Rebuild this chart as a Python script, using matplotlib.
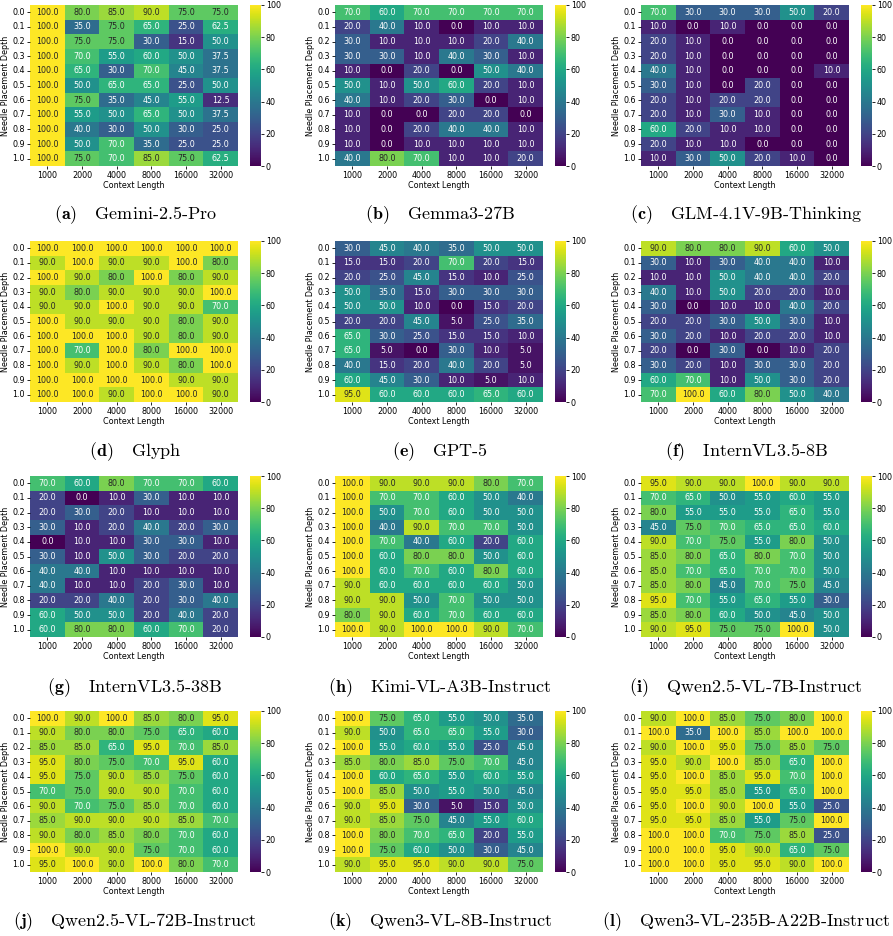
import numpy as np
import matplotlib
matplotlib.use("Agg")
import matplotlib.pyplot as plt
import seaborn as sns

plt.rcParams['mathtext.fontset'] = 'cm'

contexts = ["1000", "2000", "4000", "8000", "16000", "32000"]
depths = ["0.0", "0.1", "0.2", "0.3", "0.4", "0.5", "0.6", "0.7", "0.8", "0.9", "1.0"]

gemini_25_pro = [
    [100, 80, 85, 90, 75, 75],
    [100, 35, 75, 65, 25, 62.5],
    [100, 75, 75, 30, 15, 50],
    [100, 70, 55, 60, 50, 37.5],
    [100, 65, 30, 70, 45, 37.5],
    [100, 50, 65, 65, 25, 50],
    [100, 75, 35, 45, 55, 12.5],
    [100, 55, 50, 65, 50, 37.5],
    [100, 40, 30, 50, 30, 25],
    [100, 50, 70, 35, 25, 25],
    [100, 75, 70, 85, 75, 62.5],
]
gemma3_27b = [
    [70, 60, 70, 70, 70, 70],
    [20, 40, 10, 0, 10, 10],
    [30, 10, 10, 10, 20, 40],
    [30, 30, 10, 40, 30, 10],
    [10, 0, 20, 0, 50, 40],
    [50, 10, 50, 60, 20, 10],
    [40, 10, 20, 30, 0, 10],
    [10, 0, 0, 20, 20, 0],
    [10, 0, 20, 40, 40, 10],
    [10, 0, 10, 10, 10, 10],
    [40, 80, 70, 10, 10, 20],
]
glm_41v = [
    [70, 30, 30, 30, 50, 20],
    [10, 0, 10, 0, 0, 0],
    [20, 10, 0, 0, 0, 0],
    [20, 10, 0, 0, 0, 0],
    [40, 10, 0, 0, 0, 10],
    [30, 10, 0, 20, 0, 0],
    [20, 10, 20, 20, 0, 0],
    [20, 10, 30, 10, 0, 0],
    [60, 20, 10, 10, 0, 0],
    [20, 10, 10, 0, 0, 0],
    [10, 30, 50, 20, 10, 0],
]
glyph = [
    [100, 100, 100, 100, 100, 100],
    [90, 100, 90, 90, 100, 80],
    [100, 90, 80, 100, 80, 90],
    [90, 80, 90, 90, 90, 100],
    [90, 90, 100, 90, 90, 70],
    [100, 90, 90, 90, 80, 90],
    [100, 100, 100, 90, 80, 90],
    [100, 70, 100, 80, 100, 100],
    [100, 90, 100, 90, 80, 100],
    [100, 100, 100, 100, 90, 90],
    [100, 100, 90, 100, 100, 90],
]
gpt5 = [
    [30, 45, 40, 35, 50, 50],
    [15, 15, 20, 70, 20, 15],
    [20, 25, 45, 15, 10, 25],
    [50, 35, 15, 30, 30, 30],
    [50, 50, 10, 0, 15, 20],
    [20, 20, 45, 5, 25, 35],
    [65, 30, 25, 15, 15, 10],
    [65, 5, 0, 30, 10, 5],
    [40, 15, 20, 40, 20, 5],
    [60, 45, 30, 10, 5, 10],
    [95, 60, 60, 60, 65, 60],
]
internvl_8b = [
    [90, 80, 80, 90, 60, 50],
    [30, 10, 30, 40, 40, 10],
    [10, 10, 50, 40, 40, 20],
    [40, 10, 50, 20, 20, 10],
    [30, 0, 10, 10, 40, 20],
    [20, 20, 30, 50, 30, 10],
    [30, 20, 10, 20, 20, 10],
    [20, 0, 30, 0, 10, 20],
    [30, 20, 10, 30, 30, 20],
    [60, 70, 10, 50, 30, 20],
    [70, 100, 60, 80, 50, 40],
]
internvl_38b = [
    [70, 60, 80, 70, 70, 60],
    [20, 0, 10, 30, 10, 10],
    [20, 30, 20, 10, 10, 10],
    [30, 10, 20, 40, 20, 30],
    [0, 10, 10, 30, 30, 10],
    [30, 10, 50, 30, 20, 20],
    [40, 40, 10, 10, 10, 10],
    [40, 10, 10, 20, 30, 10],
    [20, 20, 40, 20, 30, 40],
    [60, 50, 50, 20, 40, 20],
    [60, 80, 80, 60, 70, 20],
]
kimi_vl = [
    [100, 90, 90, 90, 80, 70],
    [100, 70, 70, 60, 50, 40],
    [100, 50, 70, 60, 50, 50],
    [100, 40, 90, 70, 70, 50],
    [100, 70, 40, 60, 20, 60],
    [100, 60, 80, 80, 50, 60],
    [100, 60, 70, 60, 80, 60],
    [90, 60, 60, 60, 60, 50],
    [90, 90, 50, 70, 50, 50],
    [80, 90, 60, 70, 60, 60],
    [100, 90, 100, 100, 90, 70],
]
qwen25_7b = [
    [95, 90, 90, 100, 90, 90],
    [70, 65, 50, 55, 60, 55],
    [80, 55, 55, 55, 65, 55],
    [45, 75, 70, 65, 65, 60],
    [90, 70, 75, 55, 80, 50],
    [85, 80, 65, 80, 70, 50],
    [85, 70, 65, 70, 70, 50],
    [85, 80, 45, 70, 75, 45],
    [95, 70, 55, 65, 55, 30],
    [85, 80, 60, 50, 45, 50],
    [90, 95, 75, 75, 100, 50],
]
qwen25_72b = [
    [100, 90, 100, 85, 80, 95],
    [90, 80, 80, 75, 65, 60],
    [85, 85, 65, 95, 70, 85],
    [95, 80, 75, 70, 95, 60],
    [95, 75, 90, 85, 75, 60],
    [70, 75, 90, 90, 70, 60],
    [90, 70, 75, 85, 70, 60],
    [85, 90, 90, 90, 85, 70],
    [90, 80, 85, 80, 70, 60],
    [100, 90, 90, 75, 70, 60],
    [95, 100, 90, 100, 80, 70],
]
qwen3_8b = [
    [100, 75, 65, 55, 50, 35],
    [90, 50, 65, 65, 55, 30],
    [100, 55, 60, 55, 25, 45],
    [85, 80, 85, 75, 70, 45],
    [100, 60, 65, 55, 60, 55],
    [100, 85, 50, 55, 50, 45],
    [90, 95, 30, 5, 15, 50],
    [90, 85, 75, 45, 55, 60],
    [100, 80, 70, 65, 20, 55],
    [100, 75, 60, 50, 30, 45],
    [90, 95, 95, 90, 90, 75],
]
qwen3_235b = [
    [90, 100, 85, 75, 80, 100],
    [100, 35, 100, 85, 100, 100],
    [90, 100, 95, 75, 85, 75],
    [95, 90, 100, 85, 65, 100],
    [95, 100, 85, 95, 70, 100],
    [95, 95, 85, 55, 65, 100],
    [95, 100, 90, 100, 55, 25],
    [95, 95, 85, 55, 75, 100],
    [100, 100, 70, 75, 85, 25],
    [100, 100, 95, 90, 65, 75],
    [100, 100, 95, 95, 90, 100],
]

letters = ["a", "b", "c", "d", "e", "f", "g", "h", "i", "j", "k", "l"]
names = ["Gemini-2.5-Pro", "Gemma3-27B", "GLM-4.1V-9B-Thinking", "Glyph", "GPT-5",
         "InternVL3.5-8B", "InternVL3.5-38B", "Kimi-VL-A3B-Instruct",
         "Qwen2.5-VL-7B-Instruct", "Qwen2.5-VL-72B-Instruct",
         "Qwen3-VL-8B-Instruct", "Qwen3-VL-235B-A22B-Instruct"]
tables = [gemini_25_pro, gemma3_27b, glm_41v, glyph, gpt5, internvl_8b,
          internvl_38b, kimi_vl, qwen25_7b, qwen25_72b, qwen3_8b, qwen3_235b]

W, H = 893, 936
fig = plt.figure(figsize=(W / 100, H / 100), dpi=100)

col_left = [30, 335, 641]
row_top = [5, 241, 476, 711]
hm_w, hm_h = 208, 161
caption_y = [215, 452, 688, 922]
fs = 5.8

for i, (letter, name, tab) in enumerate(zip(letters, names, tables)):
    r, c = divmod(i, 3)
    x0, y0 = col_left[c], row_top[r]
    ax = fig.add_axes([x0 / W, 1 - (y0 + hm_h) / H, hm_w / W, hm_h / H])
    cax = fig.add_axes([(x0 + hm_w + 12) / W, 1 - (y0 + hm_h) / H, 11 / W, hm_h / H])
    sns.heatmap(np.array(tab, dtype=float), ax=ax, cbar_ax=cax, cmap="viridis",
                vmin=0, vmax=100, annot=True, fmt=".1f",
                annot_kws={"fontsize": fs},
                xticklabels=contexts, yticklabels=depths)
    ax.tick_params(labelsize=fs, length=2, width=0.6, pad=1.5)
    ax.set_yticklabels(depths, rotation=0)
    ax.set_xticklabels(contexts, rotation=0)
    ax.set_xlabel("Context Length", fontsize=fs, labelpad=1)
    ax.set_ylabel("Needle Placement Depth", fontsize=fs, labelpad=2)
    cax.tick_params(labelsize=fs, length=2, width=0.6, pad=1.5)
    cx = (x0 + 105) / W
    fig.text(cx, 1 - caption_y[r] / H, r"$\mathbf{(" + letter + r")}$   " + name,
             ha="center", va="center", fontsize=13, family="cmr10")

fig.savefig("out.png", dpi=100)
